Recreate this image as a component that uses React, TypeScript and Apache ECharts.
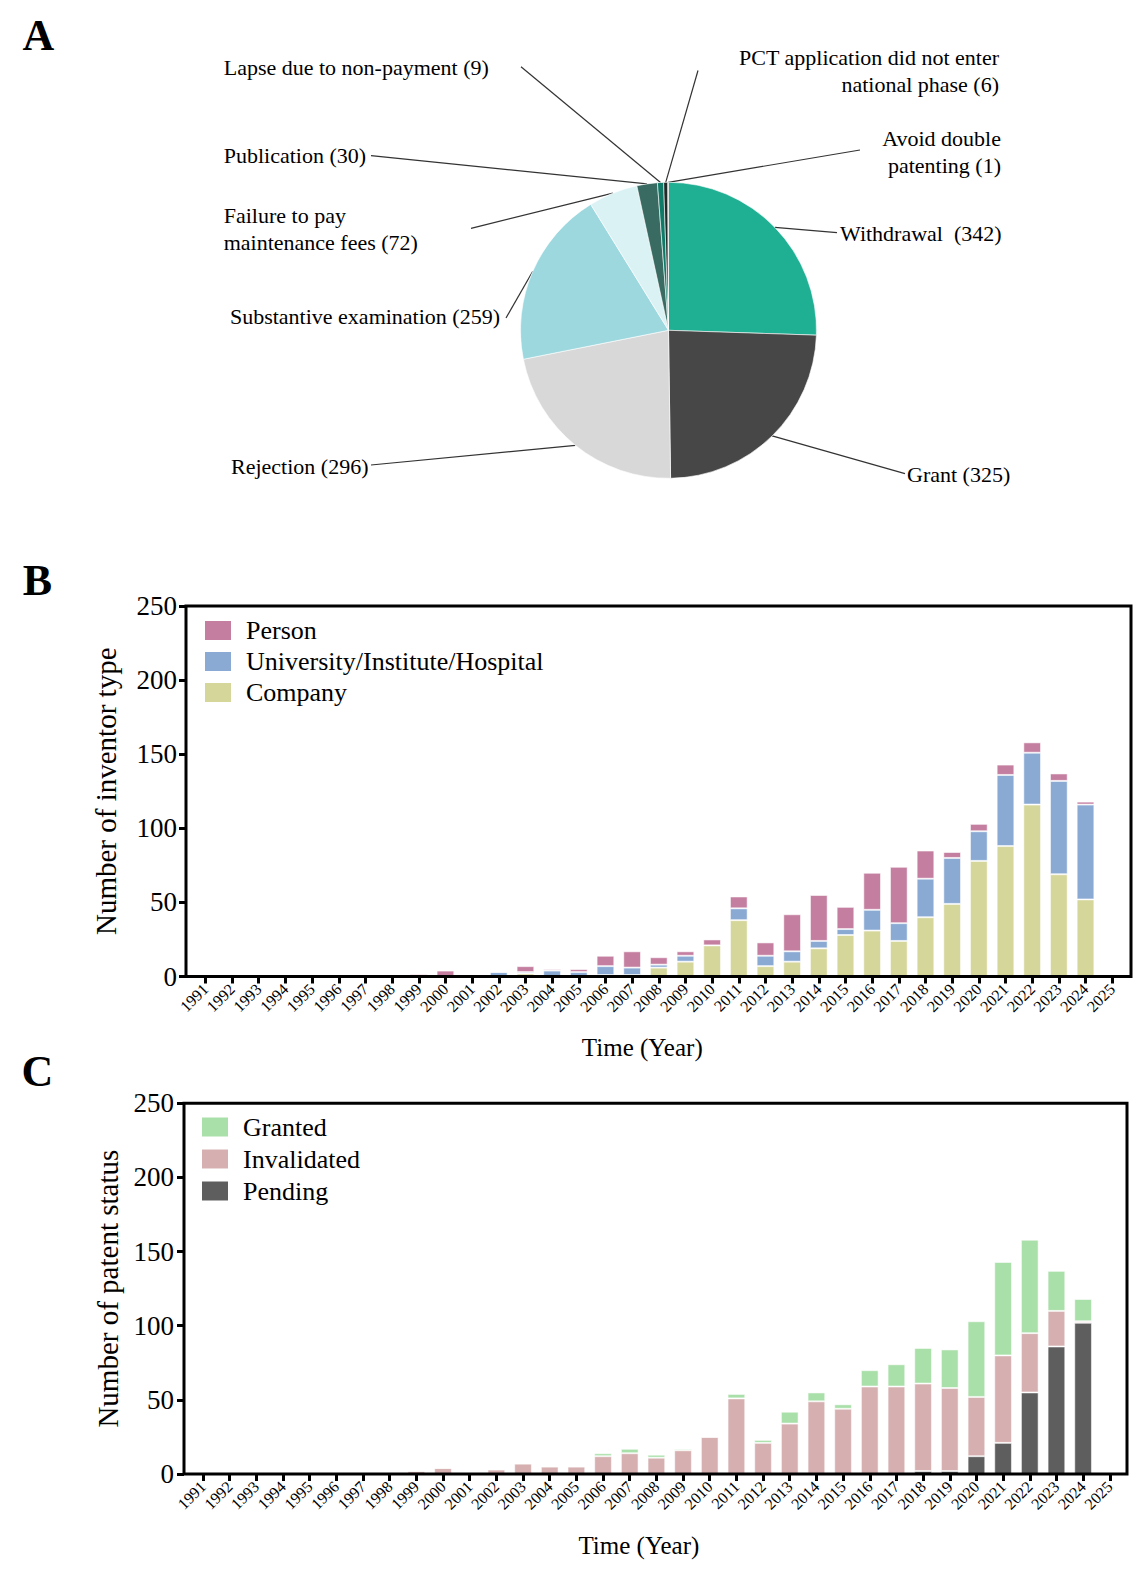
import React, { useEffect, useRef } from 'react';
import * as echarts from 'echarts';

// ---------- Data ----------
const years = ['1991','1992','1993','1994','1995','1996','1997','1998','1999','2000','2001','2002','2003','2004','2005','2006','2007','2008','2009','2010','2011','2012','2013','2014','2015','2016','2017','2018','2019','2020','2021','2022','2023','2024','2025'];

// Panel B: inventor type
const company =    [0,0,0,0,0,0,0,0,1,0,0,0,2,0,0,1,1,6,10,21,38,7,10,19,28,31,24,40,49,78,88,116,69,52,0];
const university = [0,0,0,0,0,0,0,0,0,0,0,3,1,4,3,6,5,2,4,0,8,7,7,5,4,14,12,26,31,20,48,35,63,64,0];
const person =     [0,0,1,1,0,0,0,0,1,4,1,0,4,1,2,7,11,5,3,4,8,9,25,31,15,25,38,19,4,5,7,7,5,2,0];

// Panel C: patent status
const pending =     [0,0,0,0,0,0,0,0,0,0,0,0,0,0,0,0,0,0,0,0,0,0,0,0,0,0,0,2,2,12,21,55,86,102,0];
const invalidated = [0,0,1,1,0,0,0,0,2,4,1,3,7,5,5,12,14,11,16,25,51,21,34,49,44,59,59,59,56,40,59,40,24,1,0];
const granted =     [0,0,0,0,0,0,0,0,0,0,0,0,0,0,0,2,3,2,1,0,3,2,8,6,3,11,15,24,26,51,63,63,27,15,0];

// Panel A: legal status
const statusNames = ['Withdrawal','Grant','Rejection','Substantive examination','Failure to pay maintenance fees','Publication','Lapse due to non-payment','PCT application did not enter national phase','Avoid double patenting'];
const statusCounts = [342,325,296,259,72,30,9,6,1];
const statusLabels = ['Withdrawal  (342)','Grant (325)','Rejection (296)','Substantive examination (259)','Failure to pay\nmaintenance fees (72)','Publication (30)','Lapse due to non-payment (9)','PCT application did not enter\nnational phase (6)','Avoid double\npatenting (1)'];

const yTicks = { min: 0, max: 250, interval: 50 };

// ---------- Styles / layout ----------
const FONT = '"Liberation Serif", "Times New Roman", serif';
const pieColors = ['#1FAF93','#474747','#D8D8D8','#9DD8DF','#DBF2F5','#3A6B62','#107A68','#1E2B29','#777777'];
// [x, y, align, lineEndX, lineEndY]
const pieLabelPos: [number, number, string, number, number][] = [
  [840, 233.5, 'left', 837, 232.7],
  [907, 474.3, 'left', 905, 473.7],
  [368.5, 466.7, 'right', 371, 465],
  [500, 316, 'right', 506, 318],
  [223.7, 229, 'left', 471, 228.3],
  [223.7, 155.8, 'left', 371, 155.7],
  [223.7, 67.8, 'left', 521, 66.7],
  [999, 71.3, 'right', 698, 70.5],
  [1001, 151.7, 'right', 860, 150],
];

const colB = { person: '#C47EA0', univ: '#8AAAD4', company: '#D5D69A' };
const colC = { granted: '#A9DFA9', invalid: '#D6B0B0', pending: '#5E5E5E' };

const STEP = 26.67;
const NCAT = years.length;
const gridB = { left: 205.4 - STEP / 2, top: 606, width: STEP * NCAT, height: 370.5 };
const gridC = { left: 203 - STEP / 2, top: 1103.3, width: STEP * NCAT, height: 370.7 };
const frameB = { x: 186, y: 606, width: 945, height: 370.5 };
const frameC = { x: 184, y: 1103.3, width: 943, height: 370.7 };

function xAxisFor(gridIndex: number, padRight: number, gap: number) {
  return {
    type: 'category',
    gridIndex,
    data: years,
    boundaryGap: true,
    axisLine: { show: false },
    axisTick: { show: true, alignWithLabel: true, interval: 0, length: 7, lineStyle: { color: '#000', width: 3 } },
    axisLabel: { interval: 0, rotate: 45, fontSize: 16, margin: 10, color: '#000', fontFamily: FONT },
    splitLine: { show: false },
    name: 'Time (Year)',
    nameLocation: 'middle',
    nameGap: gap,
    nameTextStyle: { fontSize: 25, color: '#000', fontFamily: FONT, verticalAlign: 'middle', padding: [0, padRight, 0, 0] },
  };
}

function yAxisFor(gridIndex: number, name: string, offset: number, margin: number, gap: number) {
  return {
    type: 'value',
    gridIndex,
    min: yTicks.min,
    max: yTicks.max,
    interval: yTicks.interval,
    offset,
    axisLine: { show: false },
    axisTick: { show: true, length: 7, lineStyle: { color: '#000', width: 3 } },
    axisLabel: { fontSize: 27, margin, color: '#000', fontFamily: FONT },
    splitLine: { show: false },
    name,
    nameLocation: 'middle',
    nameGap: gap,
    nameTextStyle: { fontSize: 29, color: '#000', fontFamily: FONT, verticalAlign: 'middle' },
  };
}

function barSeries(name: string, data: number[], color: string, stack: string, axisIndex: number) {
  return {
    type: 'bar',
    name,
    data,
    stack,
    xAxisIndex: axisIndex,
    yAxisIndex: axisIndex,
    barWidth: 17.7,
    itemStyle: { color, borderColor: 'rgba(255,255,255,0.55)', borderWidth: 1 },
    emphasis: { disabled: true },
  };
}

export default function App() {
  const ref = useRef<HTMLDivElement>(null);
  useEffect(() => {
    if (!ref.current) return;
    const chart = echarts.init(ref.current, undefined, { renderer: 'svg' });
    const option: any = {
      animation: false,
      backgroundColor: '#fff',
      textStyle: { fontFamily: FONT, color: '#000' },
      grid: [
        { ...gridB, containLabel: false },
        { ...gridC, containLabel: false },
      ],
      xAxis: [xAxisFor(0, 33, 70.5), xAxisFor(1, 35, 71)],
      yAxis: [
        yAxisFor(0, 'Number of inventor type', gridB.left - frameB.x, 9, 80),
        yAxisFor(1, 'Number of patent status', gridC.left - frameC.x, 10, 63),
      ],
      legend: [
        {
          data: ['Person', 'University/Institute/Hospital', 'Company'],
          orient: 'vertical', left: 205, top: 617.5, padding: 0,
          itemWidth: 26, itemHeight: 19, itemGap: 5, icon: 'rect',
          itemStyle: { borderWidth: 0 },
          textStyle: { fontSize: 26, color: '#000', fontFamily: FONT, lineHeight: 20, padding: [0, 0, 0, 10] },
          selectedMode: false,
        },
        {
          data: ['Granted', 'Invalidated', 'Pending'],
          orient: 'vertical', left: 202, top: 1114, padding: 0,
          itemWidth: 26, itemHeight: 19, itemGap: 6, icon: 'rect',
          itemStyle: { borderWidth: 0 },
          textStyle: { fontSize: 26, color: '#000', fontFamily: FONT, lineHeight: 20, padding: [0, 0, 0, 10] },
          selectedMode: false,
        },
      ],
      series: [
        barSeries('Company', company, colB.company, 'b', 0),
        barSeries('University/Institute/Hospital', university, colB.univ, 'b', 0),
        barSeries('Person', person, colB.person, 'b', 0),
        barSeries('Pending', pending, colC.pending, 'c', 1),
        barSeries('Invalidated', invalidated, colC.invalid, 'c', 1),
        barSeries('Granted', granted, colC.granted, 'c', 1),
        {
          type: 'pie',
          center: [668.5, 330.3],
          radius: 148,
          startAngle: 90,
          clockwise: true,
          avoidLabelOverlap: false,
          minShowLabelAngle: 0,
          data: statusNames.map((n, i) => ({ name: n, value: statusCounts[i], itemStyle: { color: pieColors[i] } })),
          itemStyle: { borderColor: '#ffffff', borderWidth: 0.6 },
          label: {
            show: true,
            position: 'outside',
            formatter: (p: any) => statusLabels[p.dataIndex],
            fontSize: 22,
            lineHeight: 27,
            color: '#000',
            fontFamily: FONT,
          },
          labelLine: { show: true, length: 10, length2: 10, lineStyle: { color: '#333', width: 1.2 } },
          labelLayout: (params: any) => {
            const p = pieLabelPos[params.dataIndex];
            const pts = params.labelLinePoints;
            const start = pts && pts[0] ? [pts[0][0], pts[0][1]] : [p[3], p[4]];
            return {
              x: p[0],
              y: p[1],
              align: p[2],
              verticalAlign: 'middle',
              labelLinePoints: [start, [p[3], p[4]], [p[3], p[4]]],
            };
          },
          emphasis: { disabled: true },
        },
      ],
      graphic: [
        { type: 'rect', z: 100, shape: frameB, style: { fill: 'transparent', stroke: '#000', lineWidth: 3 } },
        { type: 'rect', z: 100, shape: frameC, style: { fill: 'transparent', stroke: '#000', lineWidth: 3 } },
        { type: 'text', x: 38.5, y: 35.4, style: { text: 'A', font: `bold 44px ${FONT}`, fill: '#000', align: 'center', verticalAlign: 'middle' } },
        { type: 'text', x: 37.5, y: 580, style: { text: 'B', font: `bold 44px ${FONT}`, fill: '#000', align: 'center', verticalAlign: 'middle' } },
        { type: 'text', x: 37.5, y: 1071.5, style: { text: 'C', font: `bold 44px ${FONT}`, fill: '#000', align: 'center', verticalAlign: 'middle' } },
      ],
    };
    chart.setOption(option);
    return () => chart.dispose();
  }, []);
  return <div ref={ref} style={{ position: 'absolute', left: 0, top: 0, width: 1146, height: 1587, background: '#fff' }} />;
}
